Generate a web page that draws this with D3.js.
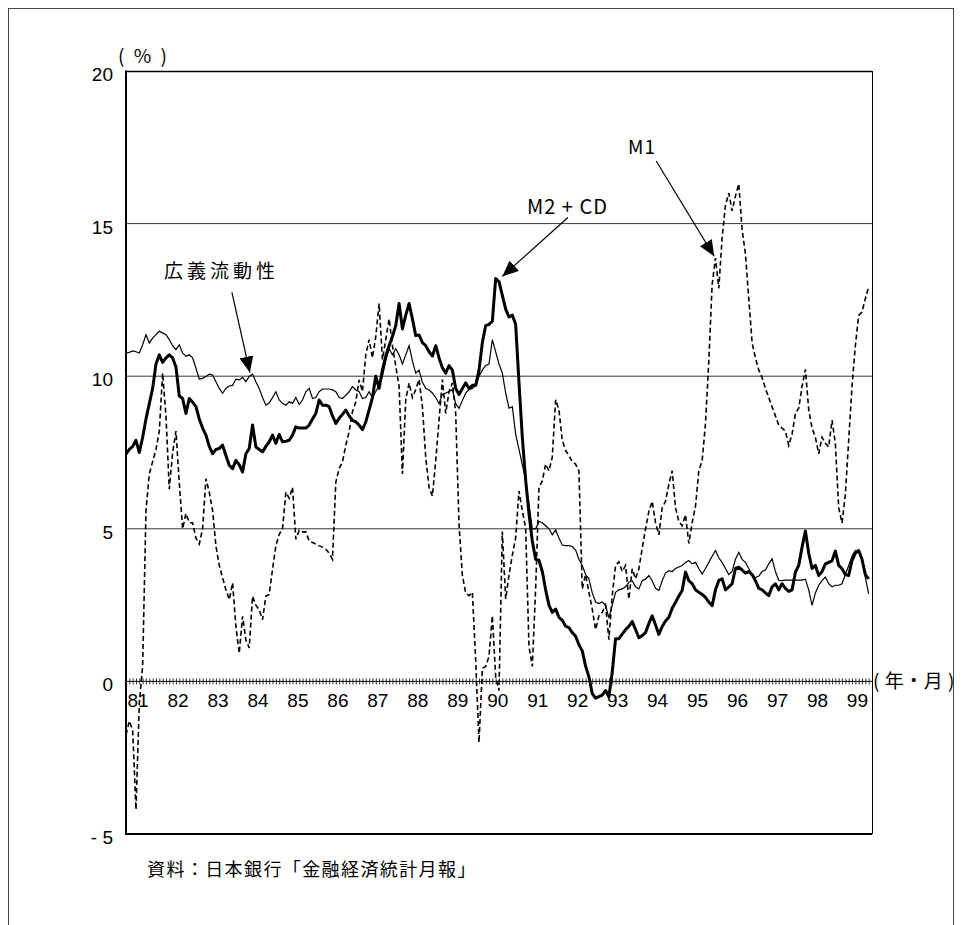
<!DOCTYPE html>
<html>
<head>
<meta charset="utf-8">
<script src="https://cdnjs.cloudflare.com/ajax/libs/d3/7.8.5/d3.min.js"></script>
<style>
body { margin: 0; background: #fff; }
svg { display: block; }
</style>
</head>
<body>
<svg></svg>
<script>
// monthly data, Jan 1981 .. Aug 1999 (year-on-year %)
var yearLabels = ["81","82","83","84","85","86","87","88","89","90",
                  "91","92","93","94","95","96","97","98","99"];
var yTicks = [20, 15, 10, 5, 0, -5];
var yTickLabels = ["20", "15", "10", "5", "0", "- 5"];
var gridValues = [5, 10, 15];

// 広義流動性
var broad = [
  10.76,10.78,10.83,10.8,10.76,11.03,11.36,11.09,11.25,11.36,
  11.47,11.42,11.36,11.2,11.0,10.87,11.03,10.76,10.65,10.7,
  10.6,10.26,9.91,9.93,9.99,10.07,10.04,9.82,9.6,9.44,
  9.6,9.68,9.7,9.9,9.88,9.96,9.82,9.99,10.07,9.82,
  9.6,9.3,9.05,9.13,9.3,9.49,9.22,9.11,9.05,9.16,
  9.11,9.3,9.08,9.22,9.49,9.6,9.27,9.3,9.49,9.58,
  9.58,9.58,9.55,9.49,9.3,9.27,9.38,9.49,9.66,9.55,
  9.49,9.27,9.3,9.49,9.3,9.5,9.7,10.0,10.5,10.9,
  10.7,10.9,10.7,10.4,10.7,11.0,10.5,10.1,10.2,9.8,
  9.6,9.55,9.45,9.3,9.1,9.4,9.45,9.5,9.56,9.1,
  8.95,9.2,9.45,9.56,9.6,9.7,10.0,10.2,10.35,10.4,
  11.2,10.8,10.4,10.1,9.45,8.95,9.0,8.1,7.6,7.1,
  6.6,5.8,5.0,5.0,5.24,5.2,5.1,5.0,4.8,4.97,
  4.7,4.47,4.45,4.45,4.42,4.3,4.0,3.8,3.5,3.36,
  2.9,2.6,2.55,2.6,2.5,2.07,2.5,2.92,3.0,3.03,
  3.1,3.25,3.3,3.1,3.03,3.3,3.35,3.47,3.3,3.05,
  2.98,3.3,3.55,3.63,3.6,3.7,3.75,3.8,3.9,3.96,
  3.85,3.9,3.7,3.52,3.7,3.9,4.1,4.29,4.05,3.9,
  3.7,3.5,3.6,4.0,4.23,4.0,3.9,3.7,3.5,3.4,
  3.45,3.6,3.65,3.85,4.02,3.6,3.31,3.3,3.32,3.32,
  3.32,3.32,3.32,3.32,3.35,3.0,2.49,2.9,3.15,3.3,
  3.42,3.2,3.1,3.15,3.15,3.2,3.5,3.8,4.1,4.29,
  4.25,4.0,3.4,2.87
];

// M2 + CD
var m2cd = [
  7.45,7.6,7.7,7.9,7.5,8.0,8.6,9.1,9.6,10.4,
  10.7,10.45,10.6,10.7,10.6,10.3,9.35,9.27,8.78,9.27,
  9.15,9.0,8.6,8.3,8.07,7.7,7.46,7.6,7.63,7.74,
  7.4,7.08,6.97,7.24,7.1,6.86,7.46,7.63,8.4,7.68,
  7.6,7.52,7.7,7.85,8.07,7.8,8.09,7.85,7.87,7.9,
  8.07,8.34,8.3,8.3,8.3,8.4,8.6,8.78,9.22,9.05,
  9.05,9.0,8.7,8.45,8.62,8.75,8.89,8.7,8.55,8.5,
  8.4,8.25,8.5,8.9,9.3,10.0,9.6,10.2,10.66,11.0,
  11.3,11.66,12.38,11.55,12.0,12.38,11.88,11.33,11.35,11.1,
  11.0,10.8,10.66,11.0,10.6,10.28,10.1,10.35,10.2,9.6,
  9.4,9.6,9.78,9.6,9.7,9.7,10.2,11.1,11.66,11.7,
  11.8,13.2,13.1,12.65,12.2,11.94,12.0,11.7,9.8,8.0,
  6.6,5.5,4.6,4.0,3.97,3.6,3.0,2.5,2.26,2.37,
  2.1,2.0,1.81,1.76,1.6,1.48,1.2,1.0,0.5,0.15,
  -0.4,-0.55,-0.5,-0.45,-0.3,-0.5,0.3,1.4,1.4,1.55,
  1.7,1.8,1.96,1.7,1.43,1.5,1.6,1.9,2.15,1.85,
  1.54,1.8,1.98,2.1,2.4,2.59,2.8,2.98,3.58,3.3,
  3.2,3.0,2.92,2.85,2.75,2.6,2.48,3.0,3.31,3.36,
  3.0,3.1,3.2,3.7,3.74,3.65,3.55,3.6,3.5,3.3,
  3.05,3.0,2.9,2.81,3.1,3.2,3.0,3.2,3.05,2.95,
  3.0,3.58,3.8,4.4,4.93,4.2,3.7,3.8,3.47,3.6,
  3.85,3.9,3.95,4.27,3.8,3.69,3.5,3.47,3.96,4.2,
  4.29,4.0,3.5,3.36
];

// M1
var m1 = [
  -1.75,-1.3,-1.6,-4.2,-0.7,0.5,5.6,6.8,7.2,7.6,
  8.2,10.1,8.7,6.3,7.5,8.2,6.5,5.0,5.5,5.2,
  5.2,4.7,4.5,5.0,6.64,6.2,5.6,4.44,3.8,3.4,
  3.0,2.68,3.23,1.8,0.92,2.13,1.36,1.1,2.79,2.5,
  2.35,2.02,2.8,2.85,3.67,4.44,4.82,5.0,6.2,6.0,
  6.36,4.66,4.95,4.9,4.9,4.6,4.55,4.5,4.44,4.4,
  4.33,4.2,4.0,6.53,6.97,7.19,7.74,8.18,8.84,9.16,
  9.88,9.5,10.7,11.2,10.6,11.3,12.38,10.55,11.2,11.88,
  11.0,10.33,9.67,6.8,9.23,9.78,9.3,9.56,9.89,9.0,
  7.35,6.35,6.07,7.23,8.56,9.89,8.78,9.5,9.78,8.78,
  5.13,3.47,2.9,2.81,2.92,0.7,-2.0,0.43,0.49,0.82,
  2.15,0.15,-0.3,4.91,2.7,3.47,4.14,4.7,6.24,5.6,
  5.02,1.15,0.49,3.03,6.35,6.57,7.12,6.9,7.35,9.23,
  8.9,7.9,7.57,7.4,7.2,7.12,6.9,3.03,3.5,2.92,
  2.37,1.7,2.15,2.26,2.5,1.37,2.81,3.8,3.92,3.6,
  3.8,2.7,3.69,3.36,3.69,4.36,5.0,5.57,5.9,5.2,
  4.8,5.69,5.9,6.46,6.9,5.69,5.24,5.1,5.46,4.52,
  5.2,5.74,6.9,7.23,8.45,10.5,13.0,13.87,12.88,14.54,
  15.6,16.0,15.42,15.9,16.3,14.8,14.0,12.54,11.1,10.6,
  10.2,9.95,9.6,9.3,9.0,8.7,8.4,8.3,8.2,7.73,
  8.1,8.78,8.95,9.67,10.22,8.9,8.3,8.0,7.46,8.0,
  7.8,7.68,8.56,7.79,5.69,5.19,6.13,7.9,9.67,11.0,
  11.99,12.1,12.54,12.93
];

function init() {

    var w = 962;
    var h = 925;
    var left = 126, right = 872, top = 71, bottom = 834;
    var numFont = "'Liberation Sans', Arial, sans-serif";
    var jpFont = "'Noto Sans CJK JP', 'Noto Sans', sans-serif";

    var svg = d3.select("svg")
                .attr("width", w)
                .attr("height", h);

    // outer frame of the figure
    svg.append("rect")
        .attr("x", 8.5).attr("y", 8.5)
        .attr("width", 945).attr("height", 960)
        .attr("fill", "none")
        .attr("stroke", "#444")
        .attr("stroke-width", 1);

    var x = d3.scaleLinear()
                .domain([0, 224])
                .range([left, right]);

    var y = d3.scaleLinear()
                .domain([-5, 20])
                .range([bottom, top]);

    // grid lines
    svg.selectAll("line.grid")
        .data(gridValues)
        .enter()
        .append("line")
        .attr("class", "grid")
        .attr("x1", left).attr("x2", right)
        .attr("y1", function(d) { return y(d); })
        .attr("y2", function(d) { return y(d); })
        .attr("stroke", "#333")
        .attr("stroke-width", 1);

    // plot box
    svg.append("line").attr("x1", left).attr("x2", right).attr("y1", top + 0.5).attr("y2", top + 0.5)
        .attr("stroke", "#000").attr("stroke-width", 1.3);
    svg.append("line").attr("x1", right + 0.5).attr("x2", right + 0.5).attr("y1", top).attr("y2", bottom)
        .attr("stroke", "#000").attr("stroke-width", 1);
    svg.append("line").attr("x1", left).attr("x2", right).attr("y1", bottom).attr("y2", bottom)
        .attr("stroke", "#000").attr("stroke-width", 2);

    // zero line with monthly ticks
    var monthAxis = d3.axisBottom(x)
                .tickValues(d3.range(0, 225))
                .tickSize(6)
                .tickFormat("");
    var mg = svg.append("g")
        .attr("transform", "translate(0," + (y(0) - 3) + ")")
        .call(monthAxis);
    mg.select(".domain").remove();
    mg.selectAll("line").attr("stroke", "#000").attr("stroke-width", 0.8);

    svg.append("line")
        .attr("x1", left).attr("x2", right)
        .attr("y1", y(0)).attr("y2", y(0))
        .attr("stroke", "#000").attr("stroke-width", 1);

    // year labels
    var yearAxis = d3.axisBottom(x)
                .tickValues(d3.range(0, 224, 12))
                .tickSize(0)
                .tickPadding(0)
                .tickFormat(function(d) { return yearLabels[d / 12]; });
    var yg = svg.append("g")
        .attr("transform", "translate(0," + y(0) + ")")
        .call(yearAxis);
    yg.select(".domain").remove();
    yg.selectAll("text")
        .attr("text-anchor", "start")
        .attr("x", 1)
        .attr("y", 26)
        .attr("dy", 0)
        .style("font-family", numFont)
        .style("font-size", "19px")
        .attr("fill", "#000");

    // left axis labels
    var yAxis = d3.axisLeft(y)
                .tickValues(yTicks)
                .tickSize(0)
                .tickPadding(13)
                .tickFormat(function(d, i) { return yTickLabels[i]; });
    var ag = svg.append("g")
        .attr("transform", "translate(" + left + ",0)")
        .call(yAxis);
    ag.select(".domain").remove();
    ag.selectAll("text")
        .attr("dy", "0.5em")
        .style("font-family", numFont)
        .style("font-size", "19px")
        .attr("fill", "#000");

    svg.append("line").attr("x1", left).attr("x2", left).attr("y1", top - 0.5).attr("y2", bottom + 1)
        .attr("stroke", "#000").attr("stroke-width", 2);

    // series
    var line = d3.line()
                .x(function(d, i) { return x(i); })
                .y(function(d) { return y(d); });

    svg.append("path")
        .datum(m1)
        .attr("d", line)
        .attr("fill", "none")
        .attr("stroke", "#000")
        .attr("stroke-width", 1.6)
        .attr("stroke-dasharray", "5,3");

    svg.append("path")
        .datum(broad)
        .attr("d", line)
        .attr("fill", "none")
        .attr("stroke", "#000")
        .attr("stroke-width", 1.2);

    svg.append("path")
        .datum(m2cd)
        .attr("d", line)
        .attr("fill", "none")
        .attr("stroke", "#000")
        .attr("stroke-width", 3)
        .attr("stroke-linejoin", "round");

    // arrows
    svg.append("defs").append("marker")
        .attr("id", "head")
        .attr("viewBox", "0 0 16 14")
        .attr("refX", 16).attr("refY", 7)
        .attr("markerWidth", 16).attr("markerHeight", 14)
        .attr("markerUnits", "userSpaceOnUse")
        .attr("orient", "auto")
        .append("path")
        .attr("d", "M0,0 L16,7 L0,14 Z")
        .attr("fill", "#000");

    var arrows = [
        { x1: 31.8, y1: 12.75, x2: 37.2, y2: 10.12 },
        { x1: 132.7, y1: 15.2, x2: 113.0, y2: 13.27 },
        { x1: 159.2, y1: 17.05, x2: 176.6, y2: 13.93 }
    ];
    svg.selectAll("line.arrow")
        .data(arrows)
        .enter()
        .append("line")
        .attr("class", "arrow")
        .attr("x1", function(d) { return x(d.x1); })
        .attr("y1", function(d) { return y(d.y1); })
        .attr("x2", function(d) { return x(d.x2); })
        .attr("y2", function(d) { return y(d.y2); })
        .attr("stroke", "#000")
        .attr("stroke-width", 1.2)
        .attr("marker-end", "url(#head)");

    // labels
    var labels = [
        { t: "広義流動性", x: 164, y: 278, size: 19, ls: 4 },
        { t: "M2 + CD", x: 527, y: 214, size: 20, ls: 1 },
        { t: "M1", x: 628, y: 154, size: 19, ls: 1 },
        { t: "( % )", x: 118, y: 63, size: 19, ls: 2.5 },
        { t: "( 年・月 )", x: 873, y: 688, size: 19, ls: 0.5 },
        { t: "資料：日本銀行「金融経済統計月報」", x: 147, y: 876, size: 18, ls: 1.4 }
    ];
    svg.selectAll("text.label")
        .data(labels)
        .enter()
        .append("text")
        .attr("class", "label")
        .attr("x", function(d) { return d.x; })
        .attr("y", function(d) { return d.y; })
        .style("font-family", jpFont)
        .style("font-size", function(d) { return d.size + "px"; })
        .style("letter-spacing", function(d) { return d.ls + "px"; })
        .attr("fill", "#000")
        .text(function(d) { return d.t; });

}
window.onload = init;
</script>
</body>
</html>
